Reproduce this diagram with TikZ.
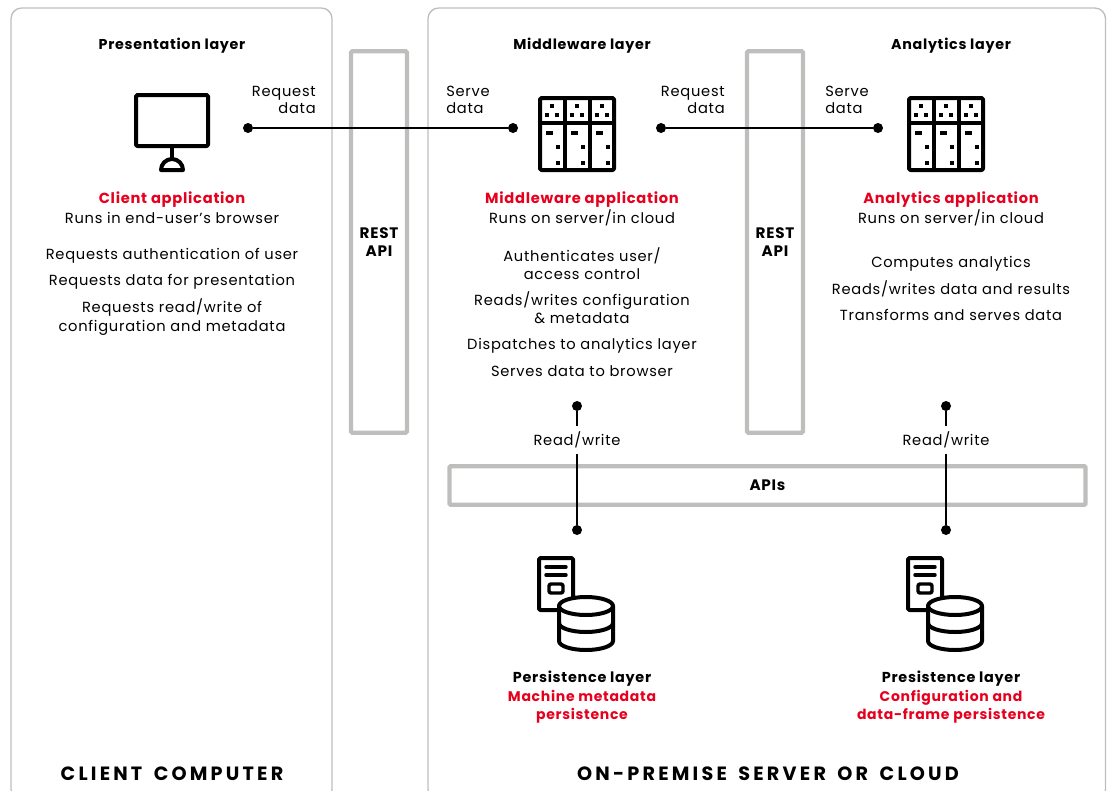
\documentclass[tikz,border=0pt]{standalone}
\usepackage{fontspec}
\setmainfont[LetterSpace=5]{Poppins}
\usetikzlibrary{positioning, calc}
\definecolor{abbred}{RGB}{230,0,30}
\definecolor{panelgray}{RGB}{190,191,189}
\tikzset{
    panel/.style = {draw=panelgray, line width=1pt, rounded corners=8pt},
    apibox/.style = {draw=panelgray, line width=3.2pt, rounded corners=1pt, inner sep=0pt,
                     font=\fontsize{11.4}{14}\selectfont\bfseries, align=center},
    layertitle/.style = {font=\fontsize{10.7}{14}\selectfont\bfseries, align=center},
    apptitle/.style = {font=\fontsize{11}{14}\selectfont\bfseries, text=abbred, align=center},
    bodytext/.style = {font=\fontsize{11}{13.6}\selectfont, align=center, inner sep=0pt},
    redtext/.style = {font=\fontsize{10.5}{13.5}\selectfont\bfseries, text=abbred, align=center, inner sep=0pt},
    sidelabel/.style = {font=\fontsize{11}{13}\selectfont, inner sep=0pt},
    footer/.style = {font=\fontsize{14.4}{16}\selectfont\bfseries},
    dot/.style = {circle, fill=black, inner sep=0pt, minimum size=7.5pt},
    link/.style = {black, line width=0.8pt},
    icon/.style = {line width=3pt, line join=round, line cap=round},
    speck/.style = {fill=black, draw=none},
    pics/rack/.style = {code = {
        % three cabinets, one shelf
        \draw[icon, rounded corners=1pt] (-37,-36) rectangle (37,36);
        \draw[icon] (-12.5,-36) -- (-12.5,36) (12.5,-36) -- (12.5,36) (-37,-11) -- (37,-11);
        \foreach \dx in {-25,0,25} {
            \fill[speck] (\dx-2,-30) rectangle ++(4,4);
            \fill[speck] (\dx-7,-21) rectangle ++(4,4);
            \fill[speck] (\dx+3,-21) rectangle ++(4,4);
            \fill[speck] (\dx-6,-3) rectangle ++(7,4);
            \fill[speck] (\dx+4,11) rectangle ++(4,4);
            \fill[speck] (\dx+4,27) rectangle ++(4,4);
        }
    }},
    pics/store/.style = {code = {
        % tower behind the cylinder
        \draw[icon, rounded corners=1pt] (-38,-16) rectangle (-4,36);
        \draw[icon, line width=2.6pt] (-31,-7) -- (-11,-7) (-31,1) -- (-11,1);
        \draw[icon, line width=2.6pt, rounded corners=1.5pt] (-28,10) rectangle (-14,19);
        \draw[icon, fill=white] (-18,32) -- (-18,67) arc[start angle=180, end angle=360, x radius=27, y radius=-9]
            -- (36,32) arc[start angle=0, end angle=180, x radius=27, y radius=-9] -- cycle;
        \draw[icon] (-18,32) arc[start angle=180, end angle=360, x radius=27, y radius=-9];
        \draw[icon] (-18,49) arc[start angle=180, end angle=360, x radius=27, y radius=-9];
    }}
}
\begin{document}
\begin{tikzpicture}[x=0.75pt, y=-0.75pt]
    \useasboundingbox (0,0) rectangle (1107,790);
    \clip (0,0) rectangle (1107,790);

    % Panels
    \draw[panel] (11,8) rectangle (332,800);
    \draw[panel] (428,8) rectangle (1105.5,800);

    % API bars
    \node[apibox, minimum width=42pt, minimum height=286pt] (rest1) at (379,242) {REST\\API};
    \node[apibox, minimum width=42pt, minimum height=286pt] (rest2) at (775,242) {REST\\API};
    \node[apibox, minimum width=477pt, minimum height=29pt] (apis) at (767.5,485.5) {APIs};

    % Layer titles
    \node[layertitle] (tpres) at (172,46) {Presentation layer};
    \node[layertitle] (tmid) at (582,46) {Middleware layer};
    \node[layertitle] (tana) at (951,46) {Analytics layer};

    % Icons
    \draw[icon, rounded corners=1pt] (136,95) rectangle (208,146);
    \draw[icon] (172,146) -- (172,158);
    \draw[icon] (161,170) arc[start angle=180, end angle=360, radius=11] -- cycle;
    \pic (rackmid) at (577,134) {rack};
    \pic (rackana) at (946,134) {rack};
    \pic (storemid) at (577,574) {store};
    \pic (storeana) at (946,574) {store};

    % Dots
    \node[dot] (d1) at (248,128) {};
    \node[dot] (d2) at (513,128) {};
    \node[dot] (d3) at (661,128) {};
    \node[dot] (d4) at (878,128) {};
    \node[dot] (d5) at (577,406) {};
    \node[dot] (d6) at (577,530) {};
    \node[dot] (d7) at (946,406) {};
    \node[dot] (d8) at (946,530) {};

    % Read/write labels
    \node[bodytext, inner ysep=4pt] (rw1) at (577,440) {Read/write};
    \node[bodytext, inner ysep=4pt] (rw2) at (946,440) {Read/write};

    % Connectors
    \draw[link] (d1) -- (d2);
    \draw[link] (d3) -- (d4);
    \draw[link] (d5) -- (rw1);
    \draw[link] (rw1) -- (d6);
    \draw[link] (d7) -- (rw2);
    \draw[link] (rw2) -- (d8);

    % Request/serve annotations
    \node[sidelabel, align=right, anchor=south east] (req1) at (316,114) {Request\\data};
    \node[sidelabel, align=left, anchor=south west] (srv1) at (446,114) {Serve\\data};
    \node[sidelabel, align=right, anchor=south east] (req2) at (725,114) {Request\\data};
    \node[sidelabel, align=left, anchor=south west] (srv2) at (825,114) {Serve\\data};

    % Application text
    \node[apptitle] (appcl) at (172,200) {Client application};
    \node[bodytext] (runcl) at (172,218) {Runs in end-user's browser};
    \node[bodytext] (cl1) at (172,256) {Requests authentication of user};
    \node[bodytext] (cl2) at (172,282) {Requests data for presentation};
    \node[bodytext] (cl3) at (172,317) {Requests read/write of\\configuration and metadata};

    \node[apptitle] (appmw) at (582,200) {Middleware application};
    \node[bodytext] (runmw) at (582,218) {Runs on server/in cloud};
    \node[bodytext] (mw1) at (582,264) {Authenticates user/\\access control};
    \node[bodytext] (mw2) at (582,308) {Reads/writes configuration\\\& metadata};
    \node[bodytext] (mw3) at (582,346) {Dispatches to analytics layer};
    \node[bodytext] (mw4) at (582,371) {Serves data to browser};

    \node[apptitle] (appan) at (951,200) {Analytics application};
    \node[bodytext] (runan) at (951,218) {Runs on server/in cloud};
    \node[bodytext] (an1) at (951,264) {Computes analytics};
    \node[bodytext] (an2) at (951,289) {Reads/writes data and results};
    \node[bodytext] (an3) at (951,315) {Transforms and serves data};

    % Persistence captions
    \node[layertitle, inner sep=0pt, font=\fontsize{10.8}{14}\selectfont\bfseries] (pm) at (582,679) {Persistence layer};
    \node[redtext, below=2.5pt of pm] (pmr) {Machine metadata\\persistence};
    \node[layertitle, inner sep=0pt, font=\fontsize{10.8}{14}\selectfont\bfseries] (pa) at (951,679) {Presistence layer};
    \node[redtext, below=2.5pt of pa] (par) {Configuration and\\data-frame persistence};

    % Footers
    \node[footer] (fcl) at (172,774) {C\,L\,I\,E\,N\,T\, \,C\,O\,M\,P\,U\,T\,E\,R};
    \node[footer] (fsv) at (768,774) {O\,N\,-\,P\,R\,E\,M\,I\,S\,E\, \,S\,E\,R\,V\,E\,R\, \,O\,R\, \,C\,L\,O\,U\,D};
\end{tikzpicture}
\end{document}
